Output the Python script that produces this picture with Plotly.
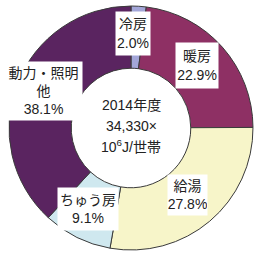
import plotly.graph_objects as go

labels = ["冷房", "暖房", "給湯", "ちゅう房", "動力・照明他"]
values = [2.0, 22.9, 27.8, 9.1, 38.1]
label_text = ["冷房", "暖房", "給湯", "ちゅう房", "動力・照明<br>他"]
colors = ["#a3a6d8", "#8e3064", "#f7f5c9", "#cfe8ef", "#5a2460"]
center_lines = ["2014年度", "34,330×", "10<sup>6</sup>J/世帯"]

W, H = 263, 260
FONT = "Liberation Sans, Arial, Noto Sans CJK JP"

fig = go.Figure(go.Pie(
    labels=labels, values=values, sort=False, direction="clockwise",
    rotation=0, hole=0.49, textinfo="none", hoverinfo="label+percent",
    marker=dict(colors=colors, line=dict(color="#3a3a3a", width=1)),
    domain=dict(x=[9 / W, 253 / W], y=[1 - 250 / H, 1 - 6 / H]),
    showlegend=False,
))

# label boxes: (center x px, center y px, width px, height px)
boxes = [(133, 33.5, 34, 43), (197, 65.5, 42, 45), (187.5, 195, 39, 40),
         (88, 209, 60, 42), (43, 91, 77, 58)]

annotations = []
for txt, v, (cx, cy, bw, bh) in zip(label_text, values, boxes):
    annotations.append(dict(
        x=cx / W, y=1 - cy / H, xref="paper", yref="paper",
        text=f"{txt}<br>{v:.1f}%", showarrow=False,
        xanchor="center", yanchor="middle", align="center",
        width=bw, height=bh, bgcolor="white", borderpad=0,
        font=dict(family=FONT, size=14, color="#222"),
    ))

for i, line in enumerate(center_lines):
    annotations.append(dict(
        x=131 / W, y=1 - (105 + i * 20.5) / H, xref="paper", yref="paper",
        text=line, showarrow=False, xanchor="center", yanchor="middle",
        font=dict(family=FONT, size=14, color="#222"),
    ))

fig.update_layout(
    width=W, height=H, margin=dict(l=0, r=0, t=0, b=0),
    paper_bgcolor="white", plot_bgcolor="white",
    annotations=annotations,
)

fig.write_html("out.html")
